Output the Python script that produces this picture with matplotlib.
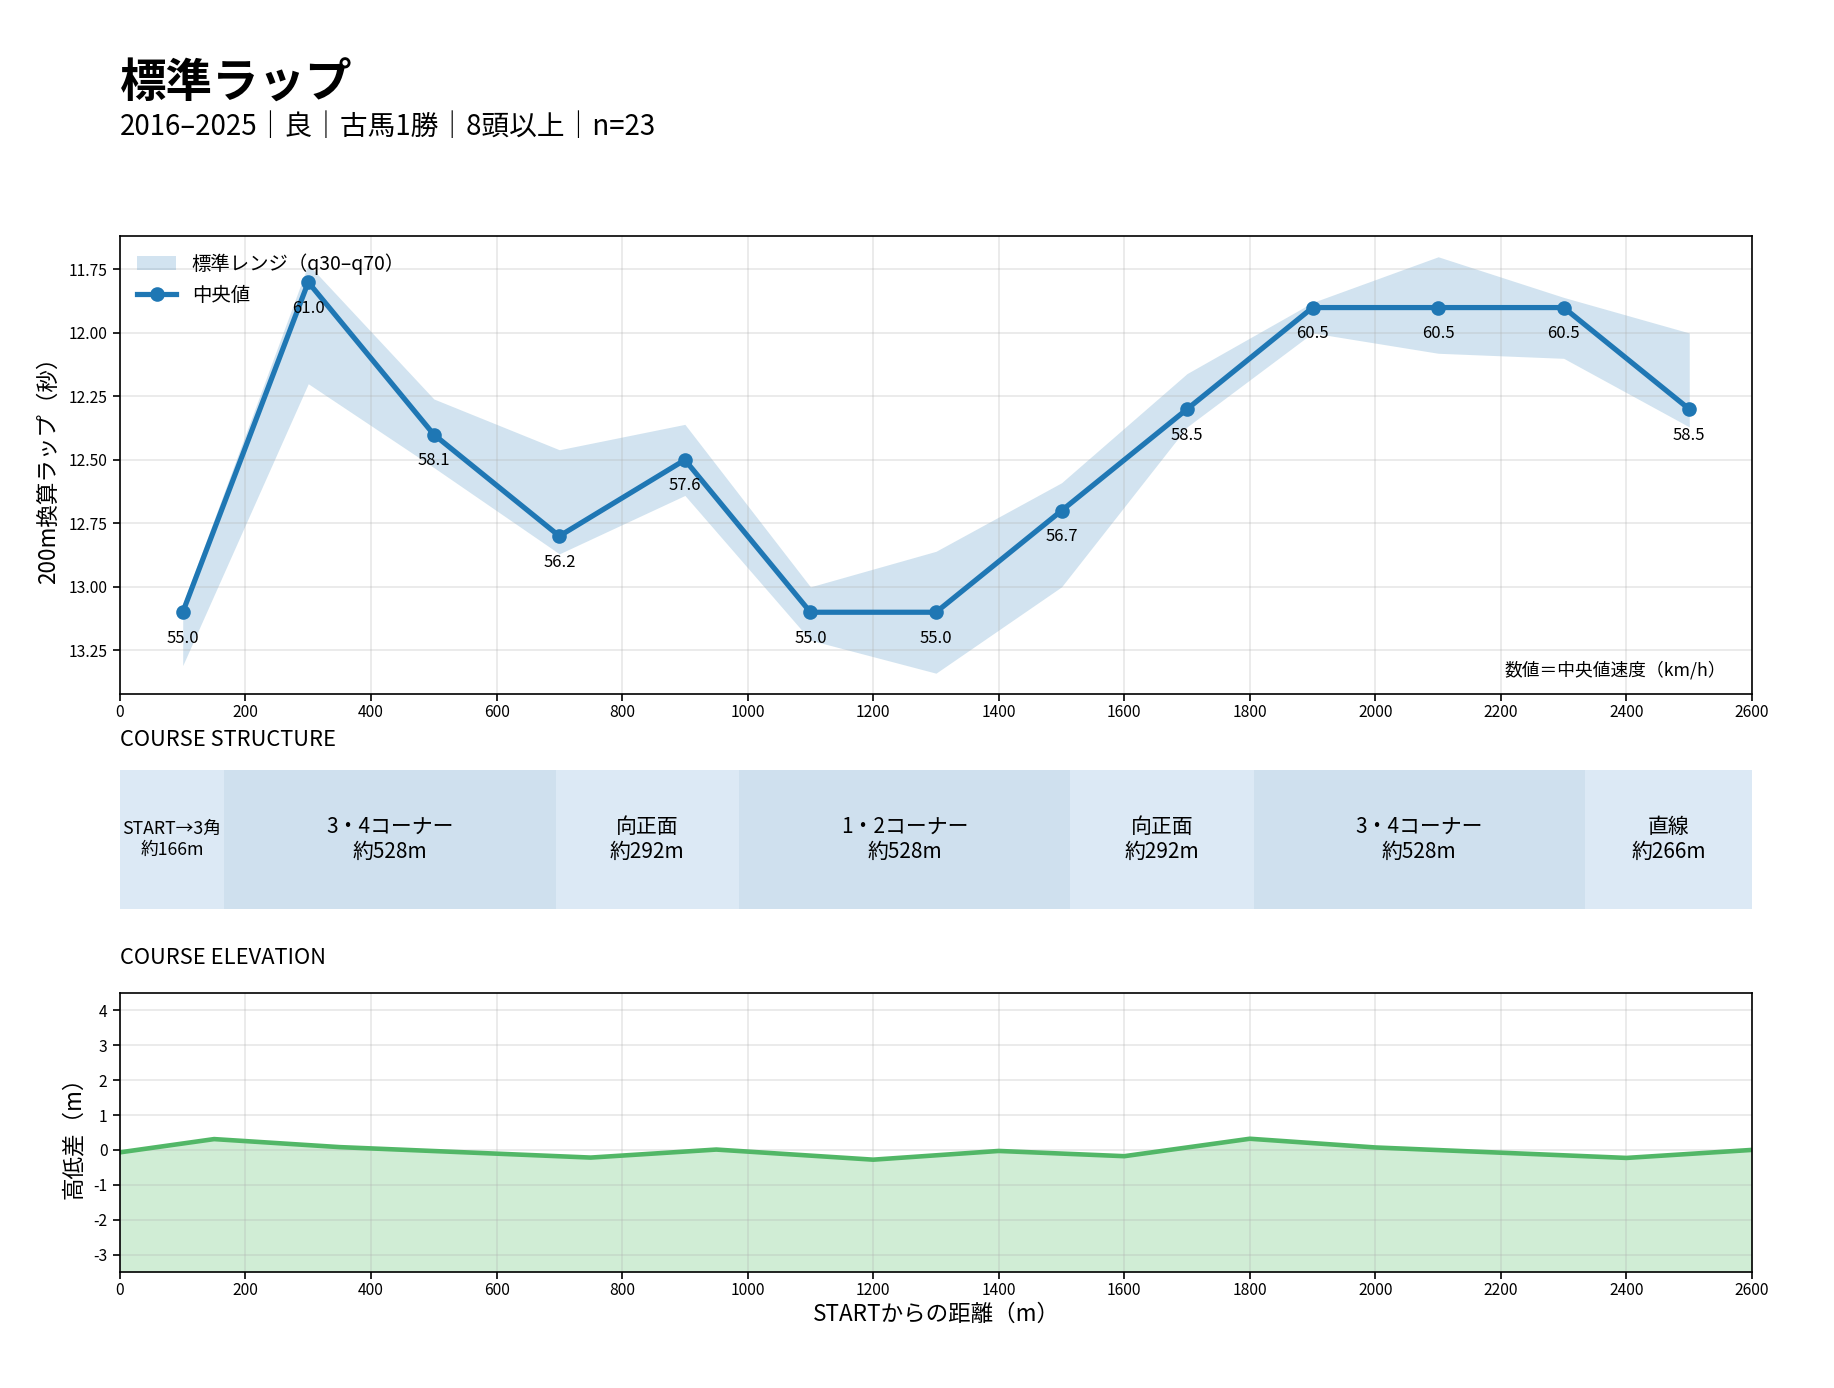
import matplotlib

matplotlib.use("Agg")
import matplotlib.pyplot as plt

plt.rcParams["font.family"] = ["Noto Sans CJK JP", "DejaVu Sans"]
plt.rcParams["axes.unicode_minus"] = False

# rap data (200m lap, seconds)
lap_x = [100, 300, 500, 700, 900, 1100, 1300, 1500, 1700, 1900, 2100, 2300, 2500]
lap_median = [13.1, 11.8, 12.4, 12.8, 12.5, 13.1, 13.1, 12.7, 12.3, 11.9, 11.9, 11.9, 12.3]
lap_q30 = [13.07, 11.73, 12.26, 12.46, 12.36, 13.0, 12.86, 12.59, 12.16, 11.88, 11.70, 11.86, 12.0]
lap_q70 = [13.31, 12.20, 12.53, 12.87, 12.64, 13.21, 13.34, 13.0, 12.37, 12.0, 12.08, 12.10, 12.37]

# course structure
seg_names = ["START→3角", "3・4コーナー", "向正面", "1・2コーナー", "向正面", "3・4コーナー", "直線"]
seg_lengths = [166, 528, 292, 528, 292, 528, 266]
seg_is_corner = [False, True, False, True, False, True, False]

# elevation
elev_x = [0, 150, 350, 750, 950, 1200, 1400, 1600, 1800, 2000, 2400, 2600]
elev_y = [-0.07, 0.31, 0.08, -0.22, 0.01, -0.28, -0.03, -0.18, 0.32, 0.07, -0.23, 0.0]

title = "標準ラップ"
subtitle = "2016–2025｜良｜古馬1勝｜8頭以上｜n=23"

W, H, DPI = 1834, 1388, 150
fig = plt.figure(figsize=(W / DPI, H / DPI), dpi=DPI)

left, width = 0.0654, 0.8899
ax = fig.add_axes([left, 0.500, width, 0.330])
ax_s = fig.add_axes([left, 0.3451, width, 0.1001])
ax_e = fig.add_axes([left, 0.0836, width, 0.2010])

fig.text(left, 0.940, title, fontsize=22.3, fontweight="bold", va="center", ha="left")
fig.text(left, 0.9085, subtitle, fontsize=13.3, va="center", ha="left")

# --- lap chart
blue = "#1f77b4"
ax.fill_between(lap_x, lap_q30, lap_q70, color=blue, alpha=0.2, linewidth=0,
                label="標準レンジ（q30–q70）")
ax.plot(lap_x, lap_median, color=blue, linewidth=2.5, marker="o", markersize=6,
        label="中央値")
for x, v in zip(lap_x, lap_median):
    speed = 200 / v * 3.6
    ax.annotate(f"{speed:.1f}", (x, v), textcoords="offset points", xytext=(0, -12.5),
                ha="center", va="center", fontsize=8)
ax.invert_yaxis()
ax.set_xlim(0, 2600)
ax.set_xticks(range(0, 2601, 200))
ax.set_yticks([11.75, 12.0, 12.25, 12.5, 12.75, 13.0, 13.25])
ax.set_ylabel("200m換算ラップ（秒）", fontsize=10.8)
ax.grid(alpha=0.3)
ax.tick_params(labelsize=7.5)
ax.tick_params(axis="x", pad=1.2)
ax.tick_params(axis="y", pad=2.5)
ax.legend(loc="upper left", frameon=False, fontsize=9.3)
ax.text(0.984, 0.052, "数値＝中央値速度（km/h）", transform=ax.transAxes,
        ha="right", va="center", fontsize=8.5)

# --- course structure
fig.text(left, 0.467, "COURSE STRUCTURE", fontsize=10.5, va="center", ha="left")
start = 0
for name, length, corner in zip(seg_names, seg_lengths, seg_is_corner):
    color = "#cfe0ee" if corner else "#dce9f5"
    ax_s.axvspan(start, start + length, color=color, linewidth=0)
    small = length < 200
    ax_s.text(start + length / 2, 0.5, f"{name}\n約{length}m", ha="center", va="center",
              fontsize=8.5 if small else 10, linespacing=1.2)
    start += length
ax_s.set_xlim(0, 2600)
ax_s.set_ylim(0, 1)
ax_s.axis("off")

# --- elevation
fig.text(left, 0.310, "COURSE ELEVATION", fontsize=10.5, va="center", ha="left")
ax_e.fill_between(elev_x, elev_y, -3.5, color="#d0edd5", linewidth=0)
ax_e.plot(elev_x, elev_y, color="#52b767", linewidth=2.2)
ax_e.set_xlim(0, 2600)
ax_e.set_ylim(-3.5, 4.5)
ax_e.set_xticks(range(0, 2601, 200))
ax_e.set_yticks(range(-3, 5))
ax_e.set_ylabel("高低差（m）", fontsize=10.8)
ax_e.set_xlabel("STARTからの距離（m）", fontsize=10.8, labelpad=2)
ax_e.grid(alpha=0.3)
ax_e.tick_params(labelsize=7.5)
ax_e.tick_params(axis="x", pad=1.2)
ax_e.tick_params(axis="y", pad=2.5)

fig.savefig("out.png", dpi=DPI)
